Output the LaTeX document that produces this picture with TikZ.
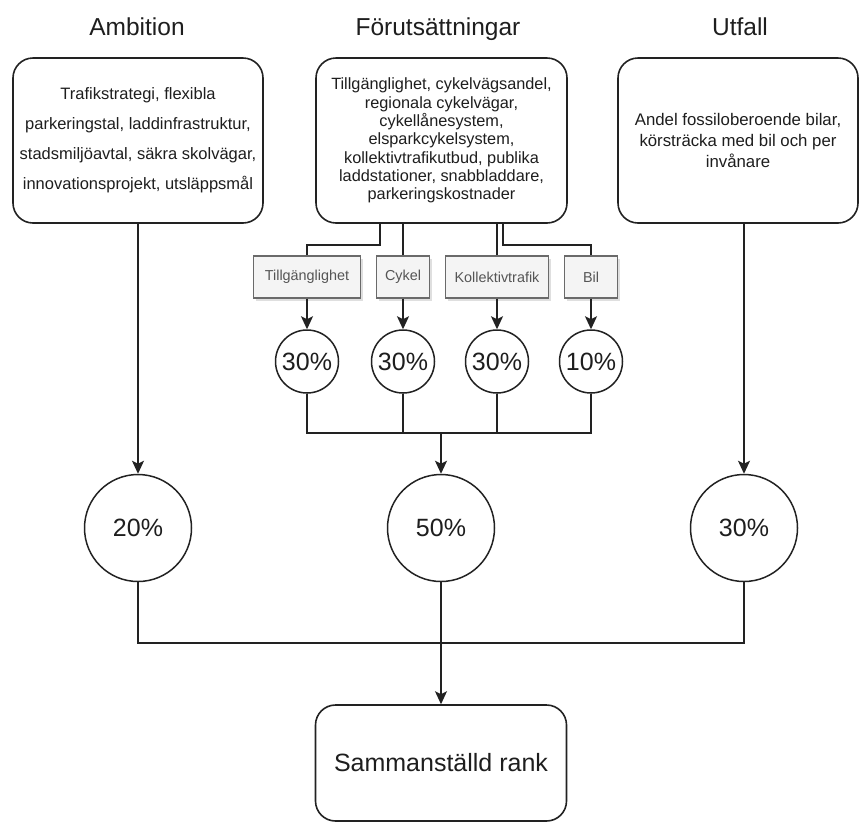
\documentclass[tikz,border=0pt]{standalone}
\usepackage{fontspec}
\setmainfont{Liberation Sans}
\usetikzlibrary{arrows.meta,shadows}
\definecolor{ln}{HTML}{222222}
\definecolor{txt}{HTML}{1E1E1E}
\definecolor{subtxt}{HTML}{555555}
\definecolor{subfill}{HTML}{F4F4F4}
\definecolor{subdraw}{HTML}{6A6A6A}
\begin{document}
\begin{tikzpicture}[x=1pt,y=-1pt,
  conn/.style={draw=ln, line width=1.5pt},
  arr/.style={conn, -{Stealth[length=13pt,width=12pt,inset=3pt]}},
  title/.style={anchor=base, text=txt, font=\fontsize{24.5}{28}\selectfont},
  bigbox/.style={draw=ln, line width=1.6pt, rounded corners=20pt, inner sep=0pt,
    align=center, text=txt},
  subbox/.style={draw=subdraw, line width=1.3pt, fill=subfill, inner sep=0pt,
    minimum height=42pt, text=subtxt, font=\fontsize{14.4}{16}\selectfont,
    drop shadow={shadow xshift=2pt, shadow yshift=-2.5pt, opacity=0.25}},
  pct/.style={draw=ln, line width=1.5pt, circle, inner sep=0pt, text=txt,
    font=\fontsize{25}{28}\selectfont}
]
\useasboundingbox (0,0) rectangle (861,823);
\fill[white] (0,0) rectangle (861,823);

% titles
\node[title] (tA) at (137,35) {Ambition};
\node[title] (tF) at (438,35) {Förutsättningar};
\node[title] (tU) at (740,35) {Utfall};

% top boxes
\node[bigbox, minimum width=250pt, minimum height=165pt,
  font=\fontsize{16.5}{30}\selectfont] (bA) at (138,140.5)
  {Trafikstrategi, flexibla\\parkeringstal, laddinfrastruktur,\\stadsmiljöavtal, säkra skolvägar,\\innovationsprojekt, utsläppsmål};
\node[bigbox, minimum width=251pt, minimum height=165pt,
  font=\fontsize{16.3}{18.3}\selectfont] (bF) at (441.5,140.5)
  {Tillgänglighet, cykelvägsandel,\\regionala cykelvägar,\\cykellånesystem,\\elsparkcykelsystem,\\kollektivtrafikutbud, publika\\laddstationer, snabbladdare,\\parkeringskostnader};
\node[bigbox, minimum width=240pt, minimum height=165pt,
  font=\fontsize{16.8}{21}\selectfont] (bU) at (738,140.5)
  {Andel fossiloberoende bilar,\\körsträcka med bil och per\\invånare};

% sub boxes
\node[subbox, minimum width=107pt] (sT) at (307,277) {Tillgänglighet};
\node[subbox, minimum width=53pt] (sC) at (403,277) {Cykel};
\node[subbox, minimum width=103pt] (sK) at (497,277) {Kollektivtrafik};
\node[subbox, minimum width=53pt] (sB) at (591,277) {Bil};

% small percentage circles
\node[pct, minimum size=63pt] (cT) at (307,361.5) {30\%};
\node[pct, minimum size=63pt] (cC) at (403,361.5) {30\%};
\node[pct, minimum size=63pt] (cK) at (497,361.5) {30\%};
\node[pct, minimum size=63pt] (cB) at (591,361.5) {10\%};

% big percentage circles
\node[pct, minimum size=107pt] (cA) at (138,528) {20\%};
\node[pct, minimum size=107pt] (cF) at (441,528) {50\%};
\node[pct, minimum size=107pt] (cU) at (744,528) {30\%};

% result box
\node[bigbox, minimum width=251pt, minimum height=116pt,
  font=\fontsize{25}{28}\selectfont] (rank) at (441,763) {Sammanställd rank};

% junction coordinates
\coordinate (j1) at (380,245);
\coordinate (j2) at (503,245);
\coordinate (m1) at (441,433);
\coordinate (m2) at (441,643);

% branches from Förutsättningar
\draw[conn] (bF.south -| j1) -- (j1) -| (sT.north);
\draw[conn] (bF.south -| sC.north) -- (sC.north);
\draw[conn] (bF.south -| sK.north) -- (sK.north);
\draw[conn] (bF.south -| j2) -- (j2) -| (sB.north);

% sub boxes to circles
\draw[arr] (sT.south) -- (cT.north);
\draw[arr] (sC.south) -- (cC.north);
\draw[arr] (sK.south) -- (cK.north);
\draw[arr] (sB.south) -- (cB.north);

% join of small circles
\draw[conn] (cT.south) -- (cT.south |- m1) -- (cB.south |- m1) -- (cB.south);
\draw[conn] (cC.south) -- (cC.south |- m1);
\draw[conn] (cK.south) -- (cK.south |- m1);
\draw[arr] (m1) -- (cF.north);

% top boxes to big circles
\draw[arr] (bA.south) -- (cA.north);
\draw[arr] (cU.north |- bU.south) -- (cU.north);

% bottom join
\draw[conn] (cA.south) -- (cA.south |- m2) -- (cU.south |- m2) -- (cU.south);
\draw[conn] (cF.south) -- (m2);
\draw[arr] (m2) -- (rank.north);
\end{tikzpicture}
\end{document}
